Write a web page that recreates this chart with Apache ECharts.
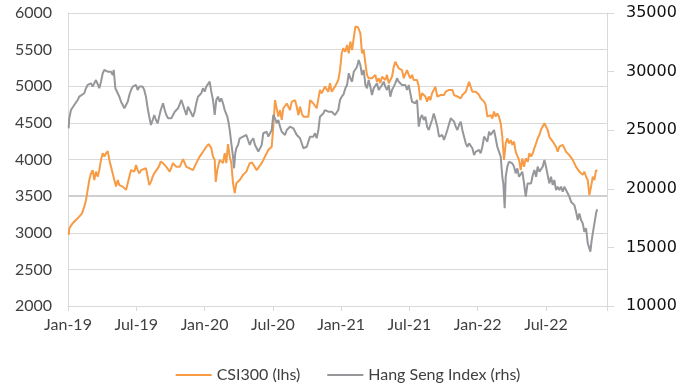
<!DOCTYPE html>
<html>
<head>
<meta charset="utf-8">
<script src="https://cdn.jsdelivr.net/npm/echarts@6/dist/echarts.min.js"></script>
<style>html,body{margin:0;padding:0;background:#fff}#c{width:696px;height:390px}</style>
</head>
<body>
<div id="c"></div>
<script>
// Time is expressed in months elapsed since 1 Jan 2019
const xTickLabels = ['Jan-19','Jul-19','Jan-20','Jul-20','Jan-21','Jul-21','Jan-22','Jul-22'];
const seriesNames = ['CSI300 (lhs)', 'Hang Seng Index (rhs)'];

const csiMonths = [0.06,0.11,0.41,0.70,0.99,1.23,1.43,1.58,1.73,1.87,
2.02,2.17,2.31,2.46,2.61,2.75,2.90,3.05,3.19,3.34,
3.49,3.63,3.78,3.93,4.07,4.22,4.37,4.51,4.66,4.81,
4.95,5.10,5.25,5.39,5.54,5.69,5.83,5.98,6.12,6.27,
6.41,6.56,6.85,7.00,7.14,7.29,7.44,7.58,7.73,7.97,
8.15,8.35,8.64,8.94,9.23,9.52,9.82,10.11,10.40,10.69,
10.98,11.27,11.57,11.86,12.15,12.36,12.59,12.74,12.89,12.98,
13.12,13.33,13.62,13.77,13.91,14.06,14.21,14.35,14.50,14.65,
14.79,15.09,15.38,15.67,15.97,16.17,16.28,16.58,16.72,17.02,
17.31,17.60,17.90,18.04,18.19,18.34,18.48,18.63,18.78,18.92,
19.22,19.51,19.66,19.95,20.10,20.24,20.39,20.54,20.68,21.12,
21.27,21.56,21.85,22.14,22.29,22.58,22.87,23.02,23.17,23.46,
23.61,23.75,23.90,24.05,24.19,24.37,24.52,24.67,24.81,24.96,
25.11,25.25,25.48,25.69,25.83,25.98,26.13,26.27,26.42,26.56,
26.71,27.00,27.15,27.30,27.44,27.59,27.74,27.88,28.03,28.18,
28.47,28.62,28.76,28.91,29.06,29.20,29.35,29.50,29.64,29.79,
29.94,30.08,30.23,30.38,30.52,30.67,30.82,30.96,31.11,31.26,
31.40,31.55,31.70,31.84,31.99,32.14,32.28,32.45,32.60,32.75,
32.89,33.04,33.19,33.33,33.48,33.63,33.77,33.92,34.07,34.21,
34.36,34.51,34.65,34.80,34.95,35.09,35.24,35.39,35.53,35.68,
35.83,35.97,36.12,36.26,36.41,36.56,36.70,36.85,37.00,37.14,
37.28,37.43,37.58,37.72,37.87,38.02,38.16,38.31,38.46,38.60,
38.75,38.90,39.04,39.19,39.34,39.48,39.63,39.78,39.92,40.07,
40.22,40.40,40.54,40.69,40.84,40.98,41.13,41.27,41.42,41.56,
41.71,41.86,42.00,42.15,42.29,42.44,42.59,42.73,42.88,43.03,
43.17,43.32,43.47,43.61,43.76,43.91,44.05,44.20,44.35,44.49,
44.64,44.79,44.93,45.08,45.23,45.37,45.52,45.67,45.81,45.96,
46.11,46.25,46.40,46.49];

const csiValues = [2970,3060,3130,3175,3220,3265,3355,3445,3585,3720,
3810,3855,3720,3835,3765,3855,3995,4085,4040,4085,
4115,3995,3900,3880,3720,3630,3720,3650,3675,3630,
3605,3585,3675,3765,3855,3835,3835,3925,3855,3810,
3855,3880,3880,3765,3650,3695,3765,3810,3835,3900,
3970,3950,3900,3835,3950,3900,3900,4005,3900,3880,
3855,3950,4040,4105,4175,4210,4155,4040,3995,3695,
3855,3995,3950,4085,3950,4210,4040,3950,3675,3540,
3675,3720,3790,3835,3950,3960,3950,3855,3835,3950,
4040,4130,4175,4450,4810,4835,4585,4675,4540,4700,
4765,4675,4790,4810,4720,4605,4720,4630,4585,4585,
4810,4765,4700,4950,4905,4995,4925,5040,4925,4995,
5040,5085,5220,5450,5520,5470,5565,5450,5610,5495,
5470,5815,5805,5725,5450,5495,5315,5155,5110,5085,
5110,5155,5060,5110,5040,5130,5155,5085,5155,5040,
5130,5265,5335,5335,5245,5265,5220,5110,5130,5220,
5155,5110,5155,5085,5110,5085,4995,4810,4905,4925,
4860,4790,4860,4810,4905,4880,4995,4860,4835,4880,
4860,4880,4925,4905,4950,4970,4950,4880,4860,4860,
4880,4835,4880,4860,4925,4950,5060,5085,4925,4950,
4925,4925,4880,4835,4810,4790,4745,4585,4560,4605,
4560,4655,4585,4630,4585,4495,4310,3995,4220,4290,
4220,4265,4200,4245,4105,4130,3995,3855,4015,3900,
4015,3970,4085,4040,4085,4155,4220,4290,4335,4405,
4450,4495,4470,4405,4310,4290,4245,4220,4175,4105,
4175,4200,4200,4155,4105,4105,4060,4085,3995,3950,
3900,3880,3835,3810,3790,3835,3765,3720,3515,3630,
3765,3720,3855,3835];

const hsiMonths = [0.06,0.11,0.26,0.41,0.55,0.70,0.85,0.99,1.14,1.43,
1.58,1.73,1.87,2.02,2.17,2.31,2.46,2.61,2.75,2.90,
3.05,3.19,3.34,3.49,3.63,3.78,3.93,4.02,4.16,4.37,
4.51,4.66,4.81,4.95,5.10,5.25,5.39,5.54,5.69,5.83,
5.98,6.12,6.27,6.41,6.56,6.70,6.85,7.00,7.14,7.29,
7.44,7.58,7.73,7.88,8.02,8.15,8.35,8.50,8.64,8.79,
8.94,9.08,9.23,9.38,9.52,9.67,9.82,9.96,10.11,10.25,
10.40,10.54,10.69,10.83,10.98,11.13,11.27,11.42,11.57,11.71,
11.86,12.01,12.15,12.30,12.45,12.59,12.74,12.89,13.03,13.18,
13.33,13.47,13.62,13.77,13.91,14.00,14.12,14.21,14.35,14.50,
14.59,14.70,14.79,14.94,15.09,15.23,15.38,15.53,15.67,15.82,
15.97,16.11,16.28,16.43,16.58,16.72,16.87,17.02,17.16,17.31,
17.46,17.60,17.75,17.90,18.04,18.19,18.34,18.48,18.63,18.78,
18.92,19.07,19.22,19.36,19.51,19.66,19.80,19.95,20.10,20.24,
20.39,20.54,20.68,20.83,20.98,21.12,21.27,21.41,21.56,21.70,
21.85,22.00,22.14,22.29,22.43,22.58,22.73,22.87,23.02,23.17,
23.31,23.46,23.61,23.75,23.90,24.05,24.21,24.37,24.52,24.67,
24.81,24.96,25.11,25.25,25.40,25.54,25.69,25.83,25.98,26.13,
26.27,26.42,26.56,26.71,26.86,27.00,27.15,27.30,27.44,27.59,
27.74,27.88,28.03,28.18,28.32,28.47,28.62,28.76,28.91,29.06,
29.20,29.35,29.50,29.64,29.79,29.94,30.08,30.23,30.38,30.52,
30.67,30.82,30.96,31.11,31.26,31.40,31.55,31.70,31.84,31.99,
32.14,32.28,32.45,32.60,32.75,32.89,33.04,33.19,33.33,33.48,
33.63,33.77,33.92,34.07,34.21,34.36,34.51,34.65,34.80,34.95,
35.09,35.24,35.39,35.53,35.68,35.83,35.97,36.12,36.26,36.41,
36.56,36.70,36.85,37.00,37.14,37.28,37.43,37.58,37.72,37.87,
38.02,38.16,38.25,38.37,38.46,38.60,38.75,38.90,39.04,39.19,
39.34,39.48,39.63,39.78,39.92,40.07,40.22,40.38,40.54,40.69,
40.84,40.98,41.13,41.27,41.42,41.56,41.71,41.86,42.00,42.15,
42.29,42.44,42.59,42.73,42.88,43.03,43.17,43.32,43.47,43.61,
43.76,43.91,44.05,44.20,44.35,44.49,44.64,44.79,44.93,45.08,
45.23,45.37,45.52,45.67,45.81,45.90,46.02,46.11,46.25,46.40,
46.49];

const hsiValues = [25160,26020,26720,26870,27150,27300,27580,27860,28000,28150,
28580,28860,28720,29000,28720,29000,29280,29430,28580,29140,
29860,30140,30140,29990,29860,29990,29710,30140,28580,28150,
27860,27430,27150,26870,27150,27430,28000,28430,28720,28580,
28860,28430,28720,28580,28720,28430,27860,26870,26150,25440,
25870,26300,25870,25590,26200,26720,27300,26720,26300,26020,
26150,26020,25870,26580,26720,26870,26720,27580,27720,26720,
26300,27010,26720,26870,26150,26580,27300,27860,27860,28150,
28580,28290,28720,28860,29140,28290,27580,26300,27580,27860,
27430,27720,27300,26720,26870,26150,25590,25020,23880,22740,
21750,23030,23460,23740,24310,24170,24450,24310,24590,24590,
23740,24100,24310,23740,23460,23170,23030,23740,24740,24590,
24870,24450,24590,25020,26300,26020,25590,25870,25300,24870,
24740,24590,25020,25160,25300,25440,25160,25020,24590,24740,
24310,24170,23460,23310,23590,24020,24450,24590,24450,24740,
24310,25020,26150,26300,26430,26720,26870,26580,26430,26580,
26430,26300,26300,26720,27580,27860,28050,28580,28860,29860,
29430,29140,29990,29990,30420,30990,30560,29710,30140,28860,
28580,29280,28720,28000,28580,28720,29000,28430,28290,28860,
29140,28720,28430,28860,27860,28430,28720,29000,29430,29140,
29000,28860,28720,28860,28430,28860,28150,27430,27580,27300,
27580,25300,26020,26300,25870,26150,25300,25020,25440,25870,
26430,25950,25300,24450,24310,24590,24170,24590,25020,25160,
26020,26150,25730,25300,25020,25440,25730,25020,24450,23880,
23590,23880,23740,23460,22890,23170,23030,23310,23030,23590,
24450,24590,24020,24870,24590,24590,25020,24310,23590,23170,
22740,21030,20460,18340,21030,21890,22310,22460,22170,21890,
21320,21740,21030,20890,21460,20460,19330,20460,20610,20460,
21180,21610,21030,21890,21460,21320,21890,22460,21890,21740,
20460,21030,20320,20750,19900,20180,19900,20180,19760,20180,
19900,20040,19330,18900,18900,18610,18050,17340,17900,17340,
17050,16340,16630,15350,14920,14640,15640,16200,16340,17910,
18250];

const pair = (xs, ys) => xs.map((x, i) => [x, ys[i]]);
const gridGrey = '#d9d9d9';
const labelGrey = '#404040';
const csiColor = '#F79B45';
const hsiColor = '#95979A';

const chart = echarts.init(document.getElementById('c'), null, {renderer: 'canvas'});
chart.setOption({
  animation: false,
  backgroundColor: '#ffffff',
  grid: {left: 68, right: 89, top: 13, bottom: 84, containLabel: false},
  legend: {
    data: [
      {name: seriesNames[0], icon: 'rect', itemStyle: {color: csiColor}},
      {name: seriesNames[1], icon: 'rect', itemStyle: {color: hsiColor}}
    ],
    left: 'center',
    top: 362,
    itemWidth: 36,
    itemHeight: 2,
    itemGap: 27,
    textStyle: {fontFamily: 'Lato', fontSize: 16, color: labelGrey}
  },
  xAxis: {
    type: 'value',
    min: 0,
    max: 47.36,
    interval: 6,
    axisLine: {show: true, lineStyle: {color: gridGrey, width: 1}},
    axisTick: {show: true, length: 5, lineStyle: {color: gridGrey}},
    splitLine: {show: false},
    axisLabel: {
      margin: 11,
      fontFamily: 'Lato', fontSize: 16, color: labelGrey,
      formatter: v => {
        const k = Math.round(v / 6);
        return Math.abs(v - k * 6) < 1e-6 && xTickLabels[k] ? xTickLabels[k] : '';
      }
    }
  },
  yAxis: [
    {
      type: 'value', position: 'left',
      min: 2000, max: 6000, interval: 500,
      axisLine: {show: true, lineStyle: {color: gridGrey}},
      axisTick: {show: false},
      splitLine: {show: true, lineStyle: {color: gridGrey, width: 1}},
      axisLabel: {margin: 16, fontFamily: 'Lato', fontSize: 16, color: labelGrey, formatter: v => String(v)}
    },
    {
      type: 'value', position: 'right',
      min: 10000, max: 35000, interval: 5000,
      axisLine: {show: true, lineStyle: {color: gridGrey}},
      axisTick: {show: true, length: 7, inside: false, lineStyle: {color: gridGrey}},
      splitLine: {show: false},
      axisLabel: {margin: 19, fontFamily: 'DejaVu Sans', fontSize: 16, color: '#111111', formatter: v => String(v)}
    }
  ],
  series: [
    {
      name: seriesNames[0],
      type: 'line',
      yAxisIndex: 0,
      data: pair(csiMonths, csiValues),
      showSymbol: false,
      symbol: 'none',
      lineStyle: {color: csiColor, width: 2},
      itemStyle: {color: csiColor},
      markLine: {
        silent: true, symbol: 'none', label: {show: false},
        lineStyle: {color: '#cfcfcf', width: 2, type: 'solid'},
        data: [{yAxis: 3500}],
        z: 1
      },
      z: 3
    },
    {
      name: seriesNames[1],
      type: 'line',
      yAxisIndex: 1,
      data: pair(hsiMonths, hsiValues),
      showSymbol: false,
      symbol: 'none',
      lineStyle: {color: hsiColor, width: 2},
      itemStyle: {color: hsiColor},
      z: 4
    }
  ]
});
</script>
</body>
</html>
